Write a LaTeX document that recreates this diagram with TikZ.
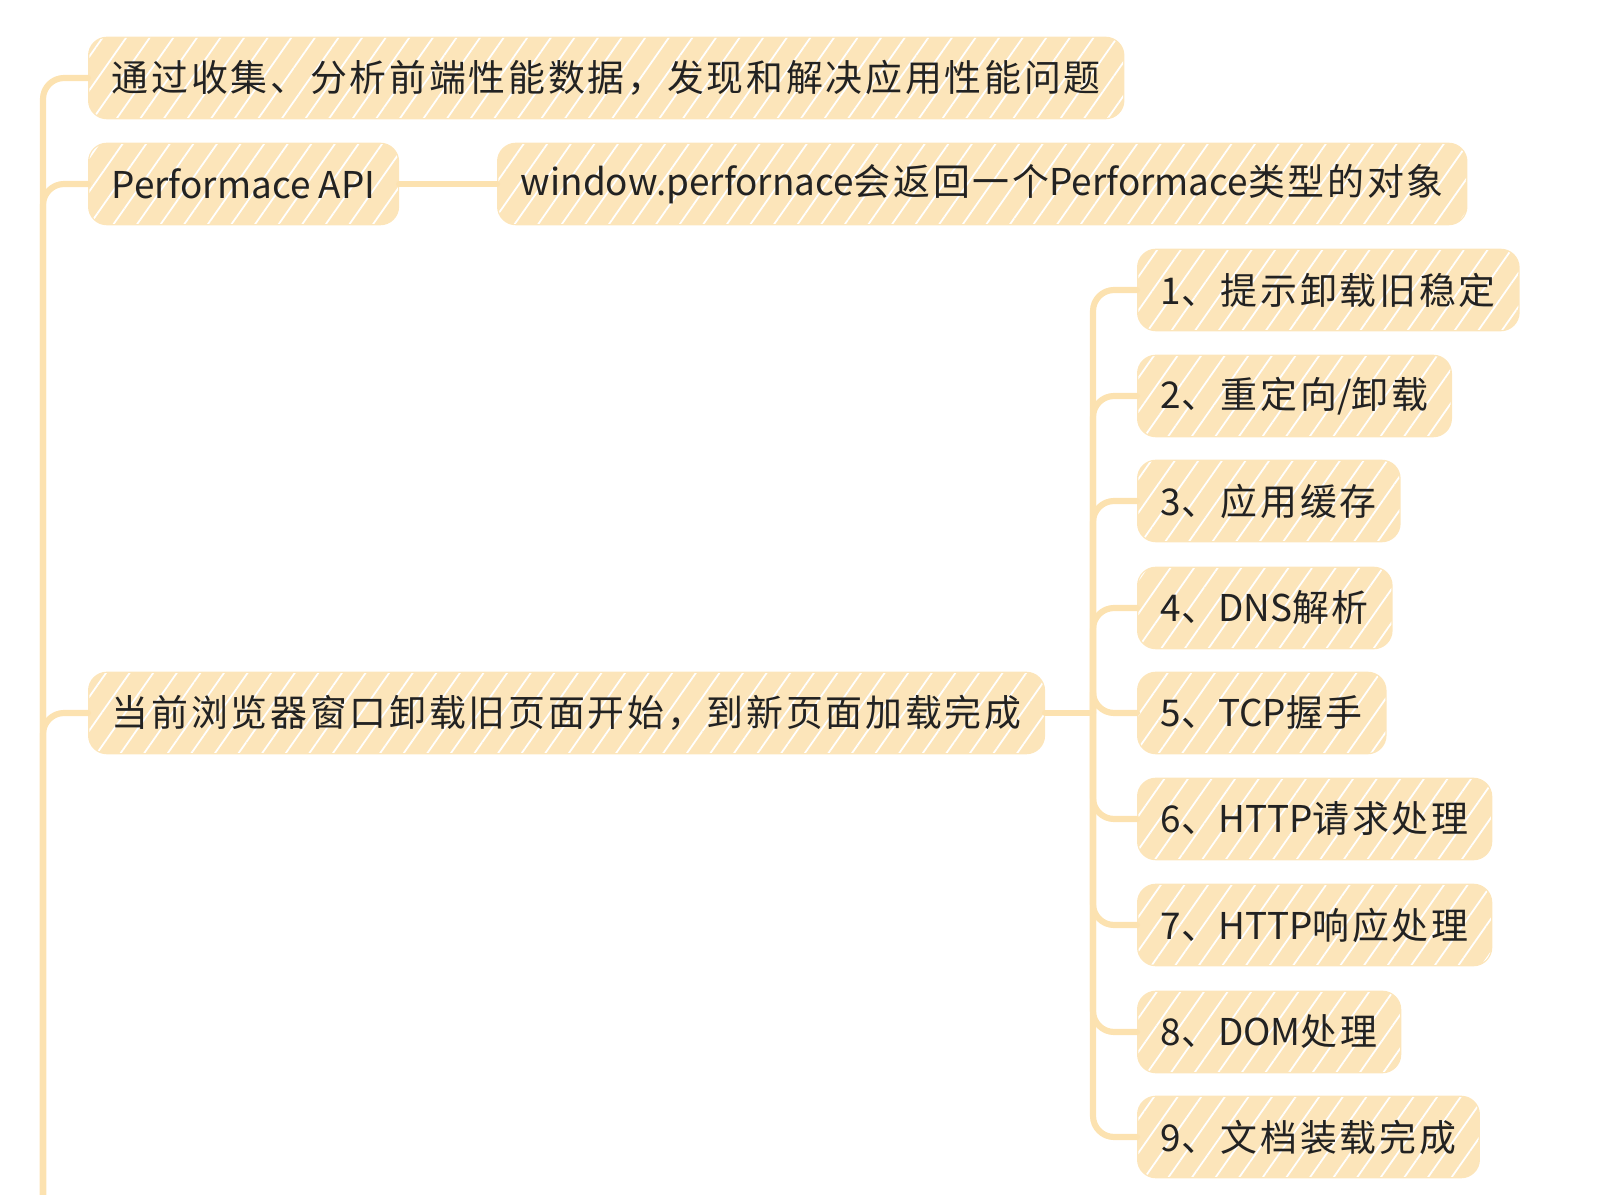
\documentclass[tikz,border=0pt]{standalone}
\usepackage{fontspec}
\setmainfont[LetterSpace=7.5]{Noto Sans CJK SC}
\newfontfamily\latinfont{Noto Sans CJK SC}
\newcommand{\lt}[1]{{\latinfont #1}}
\usetikzlibrary{patterns.meta}

\definecolor{peach}{HTML}{FCE5BA}
\definecolor{peachline}{HTML}{FCE2B0}
\definecolor{ink}{HTML}{222222}

\tikzstyle{topic}=[anchor=west,fill=peach,draw=peach,line width=1.5pt,rounded corners=10pt,minimum height=1.6cm,inner xsep=0.45cm,text=ink,font=\fontsize{21pt}{25pt}\selectfont,postaction={pattern={Lines[angle=55,distance=11pt,line width=1pt]},pattern color=white}]
\tikzstyle{ln}=[draw=peachline,line width=3.5pt,line cap=round]
\tikzstyle{elb}=[ln,rounded corners=12pt,to path={|- (\tikztotarget)}]

\begin{document}
\begin{tikzpicture}[x=0.02cm,y=-0.02cm]
  \useasboundingbox (0,0) rectangle (1624,1195);
  \coordinate (trunk) at (43,1195);
  \coordinate (hub) at (1093,713);

  \node[topic] (goal) at (88,78) {通过收集、分析前端性能数据，发现和解决应用性能问题};
  \node[topic] (api) at (88,184) {\lt{Performace API}};
  \node[topic] (obj) at (497,184) {\lt{window.perfornace}会返回一个\lt{Performace}类型的对象};
  \node[topic] (span) at (88,713) {当前浏览器窗口卸载旧页面开始，到新页面加载完成};

  \node[topic] (s1) at (1137,290) {\lt{1}、提示卸载旧稳定};
  \node[topic] (s2) at (1137,396) {\lt{2}、重定向\lt{/}卸载};
  \node[topic] (s3) at (1137,501) {\lt{3}、应用缓存};
  \node[topic] (s4) at (1137,608) {\lt{4}、\lt{DNS}解析};
  \node[topic] (s5) at (1137,713) {\lt{5}、\lt{TCP}握手};
  \node[topic] (s6) at (1137,819) {\lt{6}、\lt{HTTP}请求处理};
  \node[topic] (s7) at (1137,925) {\lt{7}、\lt{HTTP}响应处理};
  \node[topic] (s8) at (1137,1032) {\lt{8}、\lt{DOM}处理};
  \node[topic] (s9) at (1137,1137) {\lt{9}、文档装载完成};

  \path (trunk) edge [elb] (goal.west);
  \path (trunk) edge [elb] (api.west);
  \path (trunk) edge [elb] (span.west);
  \path (api) edge [ln] (obj);
  \path (span) edge [ln] (hub);

  \path (hub) edge [elb] (s1.west);
  \path (hub) edge [elb] (s2.west);
  \path (hub) edge [elb] (s3.west);
  \path (hub) edge [elb] (s4.west);
  \path (hub) edge [elb] (s5.west);
  \path (hub) edge [elb] (s6.west);
  \path (hub) edge [elb] (s7.west);
  \path (hub) edge [elb] (s8.west);
  \path (hub) edge [elb] (s9.west);
\end{tikzpicture}
\end{document}
